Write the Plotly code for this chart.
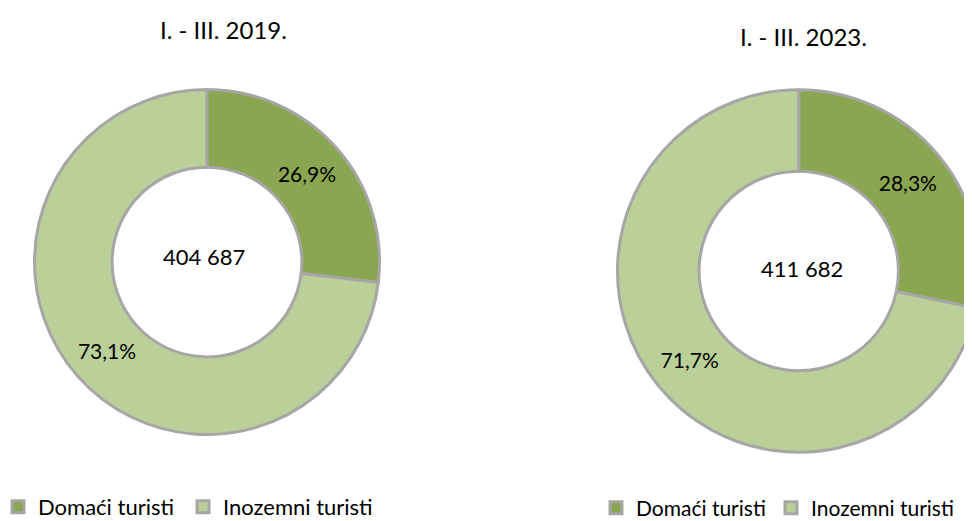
import plotly.graph_objects as go

labels = ["Domaći turisti", "Inozemni turisti"]
share_2019 = [26.9, 73.1]
share_2023 = [28.3, 71.7]
total_2019 = "404 687"
total_2023 = "411 682"
titles = ["I. - III. 2019.", "I. - III. 2023."]

colors = ["#8AA650", "#BBCF98"]
border = "#A6A6A6"
FONT = "Lato"
W, H = 972, 521

def px_x(x):
    return x / W

def px_y(y):
    return 1 - y / H

def fmt(v):
    return [f"{x:.1f}".replace(".", ",") + "%" for x in v]

fig = go.Figure()

# positions in figure pixels (page adds an 8px body margin)
cl, rl = (199, 254), 172.5
cr, rr = (791, 263), 181.5

for vals, (cx, cy), r, leg, grp in [(share_2019, cl, rl, "legend", "g2019"),
                                    (share_2023, cr, rr, "legend2", "g2023")]:
    fig.add_trace(go.Pie(
        labels=labels, values=vals, text=fmt(vals),
        textinfo="text", textposition="inside", insidetextorientation="horizontal",
        textfont=dict(family=FONT, size=21, color="#000000"),
        hole=0.55, sort=False, direction="clockwise", rotation=0,
        marker=dict(colors=colors, line=dict(color=border, width=3)),
        domain=dict(x=[px_x(cx - r), min(1.0, px_x(cx + r))], y=[px_y(cy + r), px_y(cy - r)]),
        legend=leg, legendgroup=grp, hoverinfo="label+percent",
    ))

ann = [
    dict(text=total_2019, x=196, y=249, size=22),
    dict(text=total_2023, x=794, y=260, size=22),
    dict(text=titles[0], x=215, y=22, size=24),
    dict(text=titles[1], x=795, y=29, size=24),
]
for a in ann:
    fig.add_annotation(text=a["text"], x=px_x(a["x"]), y=px_y(a["y"]), xref="paper", yref="paper",
                       showarrow=False, xanchor="center", yanchor="middle",
                       font=dict(family=FONT, size=a["size"], color="#000000"))

legend_common = dict(orientation="h", xanchor="left", yanchor="middle",
                     bgcolor="rgba(0,0,0,0)", itemwidth=30, traceorder="normal",
                     indentation=-10, entrywidthmode="pixels")

fig.update_layout(
    width=W, height=H, margin=dict(l=0, r=0, t=0, b=0, autoexpand=False),
    paper_bgcolor="#FFFFFF", plot_bgcolor="#FFFFFF",
    showlegend=True,
    legend=dict(x=0, y=px_y(499), entrywidth=150,
                font=dict(family=FONT, size=22, color="#000000"), **legend_common),
    legend2=dict(x=px_x(598), y=px_y(500), entrywidth=140,
                 font=dict(family=FONT, size=21, color="#000000"), **legend_common),
)

fig.write_html("out.html")
